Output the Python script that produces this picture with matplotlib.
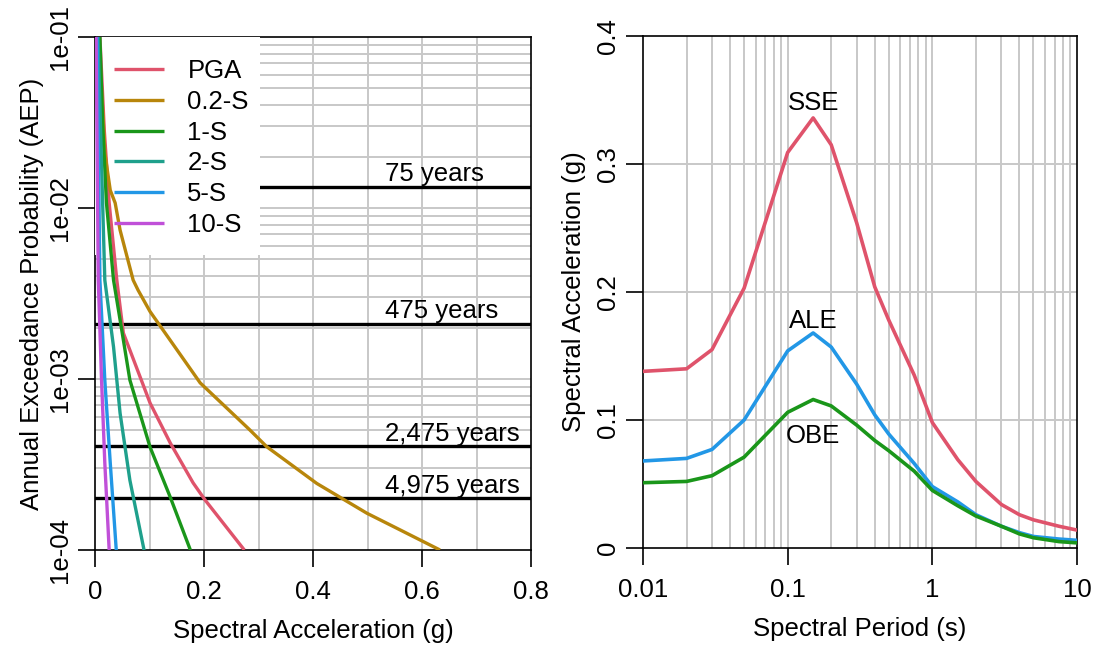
import numpy as np
import matplotlib
matplotlib.use("Agg")
import matplotlib.pyplot as plt
from matplotlib.patches import Rectangle
from matplotlib.ticker import FixedLocator, NullLocator, NullFormatter

plt.rcParams['font.family'] = ['Liberation Sans', 'DejaVu Sans']

# ---------------- Left panel data: hazard curves (g, AEP) ----------------
series_names = ["PGA", "0.2-S", "1-S", "2-S", "5-S", "10-S"]
series_colors = ["#DF536B", "#B8860B", "#1A961A", "#1FA08C", "#2297E6", "#C050D8"]

pga_g = [0.009, 0.017, 0.026, 0.040, 0.052, 0.101, 0.138, 0.180, 0.202, 0.274]
pga_aep = [0.1, 0.0286, 0.0107, 0.00379, 0.00186, 0.000724, 0.000423, 0.000247, 0.000196, 0.0001]

s02_g = [0.007, 0.015, 0.018, 0.028, 0.037, 0.046, 0.070, 0.079, 0.101, 0.193, 0.284, 0.315, 0.407, 0.499, 0.56, 0.633]
s02_aep = [0.1, 0.0327, 0.0210, 0.0127, 0.0107, 0.00743, 0.00379, 0.00331, 0.00248, 0.000949, 0.000504, 0.000402, 0.000245, 0.000164, 0.000131, 0.0001]

s1_g = [0.009, 0.014, 0.021, 0.034, 0.049, 0.064, 0.101, 0.138, 0.175]
s1_aep = [0.1, 0.0314, 0.0107, 0.00379, 0.00194, 0.000986, 0.000400, 0.000204, 0.0001]

s2_g = [0.0055, 0.014, 0.018, 0.034, 0.046, 0.064, 0.090]
s2_aep = [0.1, 0.0107, 0.00379, 0.00154, 0.000632, 0.000256, 0.0001]

s5_g = [0.004, 0.009, 0.018, 0.028, 0.039]
s5_aep = [0.1, 0.00379, 0.000986, 0.000323, 0.0001]

s10_g = [0.002, 0.006, 0.012, 0.018, 0.026]
s10_aep = [0.1, 0.00379, 0.000986, 0.000323, 0.0001]

return_periods = [75, 475, 2475, 4975]
return_labels = ["75 years", "475 years", "2,475 years", "4,975 years"]

# ---------------- Right panel data: design spectra ----------------
periods = [0.01, 0.02, 0.03, 0.05, 0.1, 0.15, 0.2, 0.3, 0.4, 0.5, 0.75, 1, 1.5, 2, 3, 4, 5, 7.5, 10]
sse = [0.138, 0.140, 0.155, 0.203, 0.309, 0.336, 0.315, 0.254, 0.204, 0.178, 0.135, 0.098, 0.069, 0.052, 0.034, 0.026, 0.022, 0.017, 0.014]
ale = [0.068, 0.070, 0.077, 0.100, 0.154, 0.168, 0.157, 0.128, 0.104, 0.089, 0.066, 0.048, 0.036, 0.026, 0.017, 0.012, 0.009, 0.007, 0.006]
obe = [0.051, 0.052, 0.0565, 0.071, 0.106, 0.116, 0.111, 0.096, 0.084, 0.076, 0.060, 0.045, 0.033, 0.025, 0.017, 0.011, 0.008, 0.005, 0.004]
spec_names = ["SSE", "ALE", "OBE"]
spec_colors = ["#DF536B", "#2297E6", "#1A961A"]
spec_label_y = [0.342, 0.172, 0.082]

FS = 18.5
GRID = "#C8C8C8"

fig = plt.figure(figsize=(10.94, 6.46), dpi=100)
axL = fig.add_axes([95/1094, 1-550/646, 436/1094, 513/646])
axR = fig.add_axes([643/1094, 1-548/646, 434/1094, 512/646])

# ---------- Left ----------
axL.set_yscale('log')
axL.set_xlim(0, 0.8)
axL.set_ylim(1e-4, 1e-1)
axL.set_axisbelow(True)
for gx in np.arange(0.1, 0.8, 0.1):
    axL.axvline(gx, color=GRID, lw=1.4, zorder=0.5)
for dec in [1e-4, 1e-3, 1e-2]:
    for m in range(1, 10):
        v = dec * m
        if 1e-4 < v < 1e-1:
            axL.axhline(v, color=GRID, lw=1.4, zorder=0.5)

for rp, lab in zip(return_periods, return_labels):
    aep = 1.0 / rp
    axL.axhline(aep, color='black', lw=2.4, zorder=3)
    axL.annotate(lab, xy=(0.532, aep), xytext=(0, 4), textcoords='offset points',
                 ha='left', va='baseline', fontsize=FS, zorder=3)

# white legend background
axL.add_patch(Rectangle((0, 1 - 218/513), 165/436, 218/513, transform=axL.transAxes,
                        facecolor='white', edgecolor='none', zorder=4))

all_g = [pga_g, s02_g, s1_g, s2_g, s5_g, s10_g]
all_aep = [pga_aep, s02_aep, s1_aep, s2_aep, s5_aep, s10_aep]
handles = []
for name, col, gg, aa in zip(series_names, series_colors, all_g, all_aep):
    h, = axL.plot(gg, aa, color=col, lw=2.4, zorder=5, label=name, solid_capstyle='butt')
    handles.append(h)

leg = axL.legend(handles=handles, loc='upper left', bbox_to_anchor=(0.044, 0.957),
                 frameon=False, fontsize=FS, handlelength=1.95, handletextpad=0.9,
                 labelspacing=0.265, borderaxespad=0, borderpad=0)
leg.set_zorder(6)

axL.yaxis.set_major_locator(FixedLocator([1e-4, 1e-3, 1e-2, 1e-1]))
axL.yaxis.set_minor_locator(NullLocator())
axL.yaxis.set_minor_formatter(NullFormatter())
axL.set_yticklabels(["1e-04", "1e-03", "1e-02", "1e-01"], rotation=90, va='center')
axL.set_xticks([0, 0.2, 0.4, 0.6, 0.8])
axL.set_xticklabels(["0", "0.2", "0.4", "0.6", "0.8"])
axL.tick_params(axis='both', length=12.5, width=1.2, labelsize=FS, direction='out')
axL.tick_params(axis='x', pad=9)
axL.tick_params(axis='y', pad=4)
axL.set_xlabel("Spectral Acceleration (g)", fontsize=FS, labelpad=11)
axL.set_ylabel("Annual Exceedance Probability (AEP)", fontsize=FS, labelpad=3)
for s in axL.spines.values():
    s.set_linewidth(1.2)

# ---------- Right ----------
axR.set_xscale('log')
axR.set_xlim(0.01, 10)
axR.set_ylim(0, 0.4)
for dec in [0.01, 0.1, 1]:
    for m in range(1, 10):
        v = dec * m
        if 0.01 < v < 10:
            axR.axvline(v, color=GRID, lw=1.4, zorder=0.5)
for gy in [0.1, 0.2, 0.3]:
    axR.axhline(gy, color=GRID, lw=1.4, zorder=0.5)

for name, col, vals, ly in zip(spec_names, spec_colors, [sse, ale, obe], spec_label_y):
    axR.plot(periods, vals, color=col, lw=2.6, zorder=3)
    axR.text(0.15, ly, name, ha='center', va='baseline', fontsize=FS, zorder=4)

axR.xaxis.set_major_locator(FixedLocator([0.01, 0.1, 1, 10]))
axR.xaxis.set_minor_locator(NullLocator())
axR.xaxis.set_minor_formatter(NullFormatter())
axR.set_xticklabels(["0.01", "0.1", "1", "10"])
axR.set_yticks([0, 0.1, 0.2, 0.3, 0.4])
axR.set_yticklabels(["0", "0.1", "0.2", "0.3", "0.4"], rotation=90, va='center')
axR.tick_params(axis='both', length=12.5, width=1.2, labelsize=FS, direction='out')
axR.tick_params(axis='x', pad=9)
axR.tick_params(axis='y', pad=4)
axR.set_xlabel("Spectral Period (s)", fontsize=FS, labelpad=11)
axR.set_ylabel("Spectral Acceleration (g)", fontsize=FS, labelpad=7)
for s in axR.spines.values():
    s.set_linewidth(1.2)

fig.savefig("out.png", dpi=100)
